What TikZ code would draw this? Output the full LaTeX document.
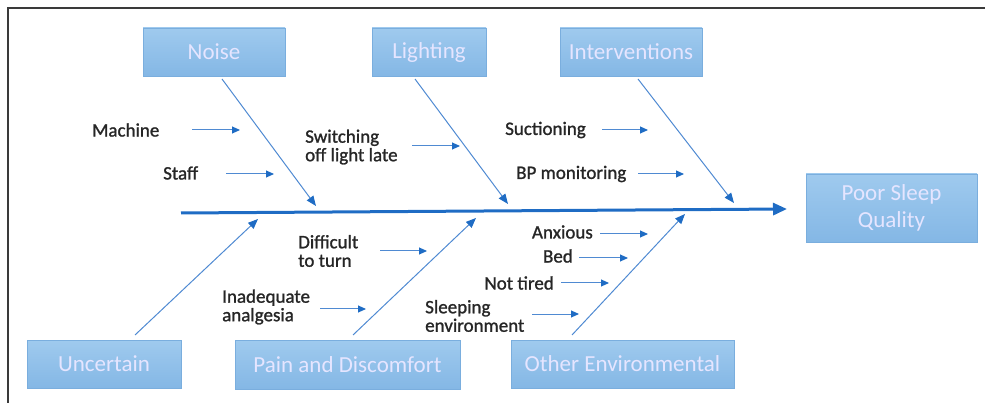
\documentclass[tikz,border=0pt]{standalone}
\usepackage{fontspec}
\setmainfont{Carlito}
\newfontfamily\lblfont[FakeBold=1.2]{Carlito}
\usetikzlibrary{arrows.meta,shadings}
\definecolor{boxtop}{HTML}{9FCAEE}
\definecolor{boxbot}{HTML}{84B7E5}
\definecolor{boxline}{HTML}{7AAEDE}
\definecolor{spine}{HTML}{1F6CC4}
\definecolor{bone}{HTML}{4F8AD2}
\definecolor{frame}{HTML}{3A3A3A}
\definecolor{lbltext}{HTML}{262626}
\tikzset{
  x=1pt,y=-1pt,
  causebox/.style={rectangle,draw=boxline,line width=0.8pt,top color=boxtop,bottom color=boxbot,
    text=white!90!blue,font=\fontsize{23}{27}\selectfont,inner sep=0pt,align=center},
  lbl/.style={font=\lblfont\fontsize{19}{18.5}\selectfont,text=lbltext,inner sep=0pt,align=left},
  bonearrow/.style={draw=bone,line width=1pt,-{Triangle[length=10pt,width=8pt,color=spine]}},
  subarrow/.style={draw=bone,line width=1pt,-{Triangle[length=8pt,width=7pt,color=spine]}},
  spinearrow/.style={draw=spine,line width=3pt,-{Triangle[length=14pt,width=12pt]}}
}
\begin{document}
\begin{tikzpicture}
\useasboundingbox (0,0) rectangle (985,403);
\draw[frame,line width=2pt] (8,403) -- (8,8) -- (985,8);
% boxes
\node[causebox,minimum width=142pt,minimum height=48pt] (noise) at (214,52) {Noise};
\node[causebox,minimum width=114pt,minimum height=48pt] (lighting) at (429,52) {Lighting};
\node[causebox,minimum width=142pt,minimum height=48pt] (interv) at (631,52) {Interventions};
\node[causebox,minimum width=171pt,minimum height=68pt] (poor) at (891.5,208) {Poor Sleep\\Quality};
\node[causebox,minimum width=154pt,minimum height=48pt] (uncertain) at (104,364) {Uncertain};
\node[causebox,minimum width=225pt,minimum height=49pt] (pain) at (347.5,364.5) {Pain and Discomfort};
\node[causebox,minimum width=223pt,minimum height=48pt] (other) at (622.5,364) {Other Environmental};
% spine
\coordinate (sp0) at (181,213);
\coordinate (sp1) at (787,209);
\draw[spinearrow] (sp0) -- (sp1);
% bones
\coordinate (nb0) at (222,79);   \coordinate (nb1) at (316,206);
\coordinate (lb0) at (415,79);   \coordinate (lb1) at (508,204);
\coordinate (ib0) at (638,79);   \coordinate (ib1) at (734,203);
\coordinate (ub0) at (135,335);  \coordinate (ub1) at (258,219);
\coordinate (pb0) at (353,335);  \coordinate (pb1) at (476,218);
\coordinate (ob0) at (572,335);  \coordinate (ob1) at (685,214);
\draw[bonearrow] (nb0) -- (nb1);
\draw[bonearrow] (lb0) -- (lb1);
\draw[bonearrow] (ib0) -- (ib1);
\draw[bonearrow] (ub0) -- (ub1);
\draw[bonearrow] (pb0) -- (pb1);
\draw[bonearrow] (ob0) -- (ob1);
% labels
\node[lbl,anchor=west] (machine) at (92,130) {Machine};
\node[lbl,anchor=west] (staff) at (163,173) {Staff};
\node[lbl,anchor=west] (switch) at (305,147) {Switching\\off light late};
\node[lbl,anchor=west] (suction) at (505,130) {Suctioning};
\node[lbl,anchor=west] (bp) at (516,174) {BP monitoring};
\node[lbl,anchor=west] (difficult) at (298,251) {Difficult\\to turn};
\node[lbl,anchor=west] (inadequate) at (222,307) {Inadequate\\analgesia};
\node[lbl,anchor=east] (anxious) at (593,232) {Anxious};
\node[lbl,anchor=east] (bed) at (573,256) {Bed};
\node[lbl,anchor=east] (nottired) at (554,283) {Not tired};
\node[lbl,anchor=west] (sleeping) at (425,316) {Sleeping\\environment};
% sub arrows
\coordinate (a1s) at (192,130); \coordinate (a1e) at (240,130);
\coordinate (a2s) at (226,174); \coordinate (a2e) at (274,174);
\coordinate (a3s) at (412,146); \coordinate (a3e) at (460,146);
\coordinate (a4s) at (602,130); \coordinate (a4e) at (648,130);
\coordinate (a5s) at (638,174); \coordinate (a5e) at (684,174);
\coordinate (a6s) at (380,251); \coordinate (a6e) at (427,251);
\coordinate (a7s) at (320,309); \coordinate (a7e) at (366,309);
\coordinate (a8s) at (600,234); \coordinate (a8e) at (648,234);
\coordinate (a9s) at (579,258); \coordinate (a9e) at (628,258);
\coordinate (a10s) at (561,283); \coordinate (a10e) at (609,283);
\coordinate (a11s) at (532,314); \coordinate (a11e) at (579,314);
\foreach \i in {1,...,11} {\draw[subarrow] (a\i s) -- (a\i e);}
\end{tikzpicture}
\end{document}
